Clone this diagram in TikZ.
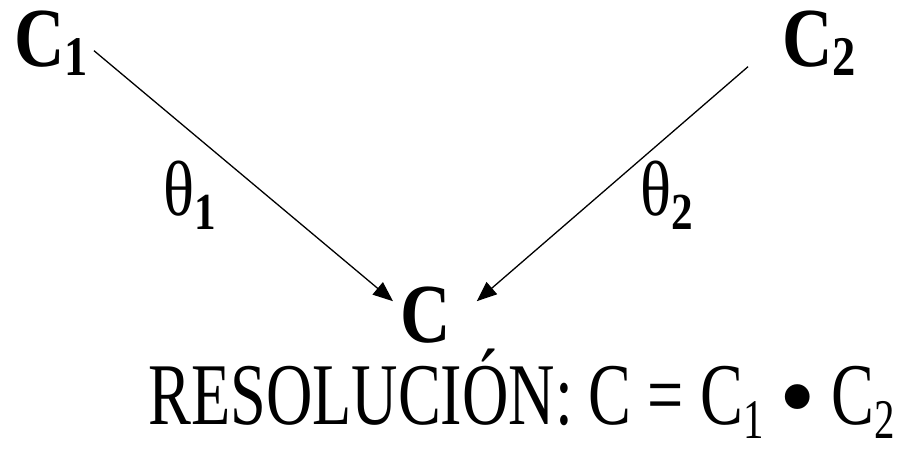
\documentclass[tikz,border=0pt]{standalone}
\usepackage{fontspec}
\setmainfont[FakeStretch=0.83]{Liberation Serif}
\newfontfamily\resfont[FakeStretch=0.73]{Liberation Serif}
\newfontfamily\dotfont{Liberation Serif}
\usetikzlibrary{arrows.meta,positioning,calc}
\tikzset{
  termnode/.style={inner sep=0pt,anchor=base west,font=\fontsize{84}{88}\selectfont\bfseries},
  anglenode/.style={inner sep=0pt,anchor=base west,font=\fontsize{78}{82}\selectfont},
  resnode/.style={inner sep=0pt,anchor=base west,font=\resfont\fontsize{88}{92}\selectfont},
  arr/.style={-{Triangle[length=20pt,width=16pt]},line width=1.3pt,color=black}
}
\newcommand{\termsub}[1]{\raisebox{-9pt}{\fontsize{56}{56}\selectfont\bfseries #1}}
\newcommand{\anglesub}[1]{\raisebox{-14pt}{\fontsize{52}{52}\selectfont\bfseries #1}}
\newcommand{\ressub}[1]{\raisebox{-14pt}{\fontsize{56}{56}\selectfont #1}}
\newcommand{\resdot}{\raisebox{-7pt}{\dotfont\fontsize{104}{104}\selectfont •}}

\begin{document}
\begin{tikzpicture}[x=1pt,y=-1pt]
  \useasboundingbox (0,0) rectangle (913,451);

  %% Clauses
  \node[termnode] (c1) at (14,66) {C\termsub{1}};
  \node[termnode] (c2) at (782,66) {C\termsub{2}};
  \node[termnode] (c) at (400,342) {C};

  %% Unifiers
  \node[anglenode] (t1) at (163,215) {θ\anglesub{1}};
  \node[anglenode] (t2) at (640,215) {θ\anglesub{2}};

  %% Resolution rule
  \node[resnode] (res) at (148,424)
    {RESOLUCIÓN: C = C\ressub{1} \resdot{} C\ressub{2}};

  %% ── ARROWS ──
  \draw[arr] ($(c1.east)+(6,8)$) -- ($(c.north west)+(-7,15)$);
  \draw[arr] ($(c2.west)+(-34,24)$) -- ($(c.north east)+(26,15)$);

\end{tikzpicture}
\end{document}
